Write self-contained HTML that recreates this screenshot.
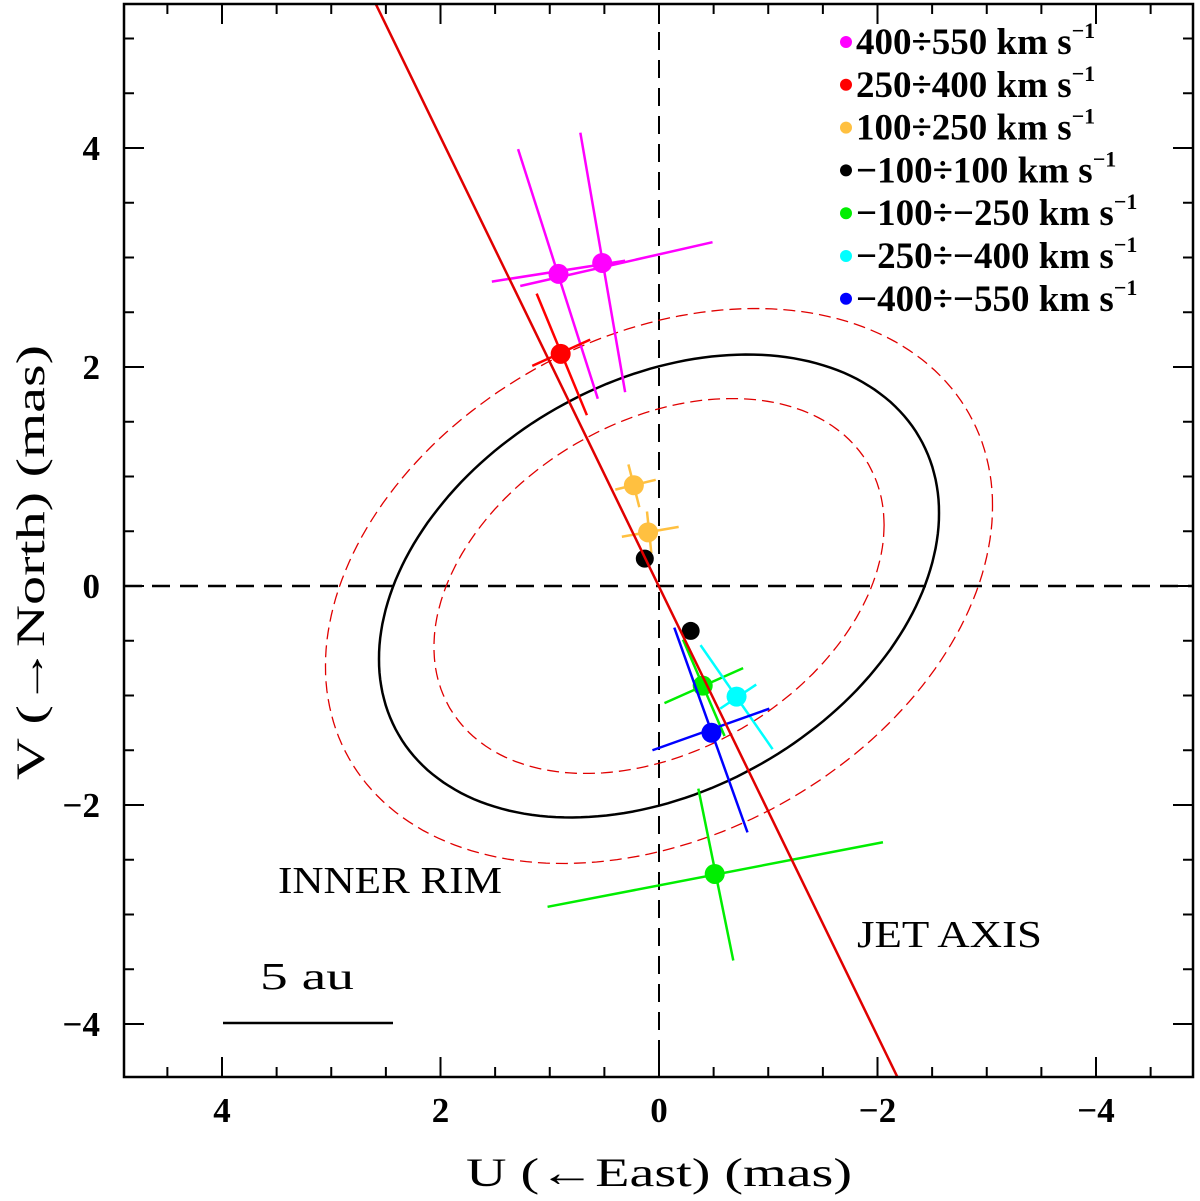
<!DOCTYPE html>
<html><head><meta charset="utf-8"><style>
html,body{margin:0;padding:0;background:#fff;}
svg text{font-family:"Liberation Sans",sans-serif;}
.serif{font-family:"Liberation Serif",serif !important;}
</style></head><body>
<svg id="chart" width="1200" height="1196" viewBox="0 0 1200 1196" xmlns="http://www.w3.org/2000/svg">
<defs><clipPath id="clip"><rect x="124" y="4" width="1069" height="1073"/></clipPath></defs>
<g id="plot" clip-path="url(#clip)"></g>
<g id="axes"></g>
</svg>
<script>
// Data (U, V in mas)
const xTicks = [4, 2, 0, -2, -4];
const yTicks = [4, 2, 0, -2, -4];
const xTickLabels = ["4", "2", "0", "\u22122", "\u22124"];
const yTickLabels = ["4", "2", "0", "\u22122", "\u22124"];
// ellipses: [x-extent, y-extent, V at the western (negative U) x-extreme]
const rimEllipse = [2.563, 2.114, 0.667];
const innerEllipse = [2.06, 1.712, 0.557];
const outerEllipse = [3.053, 2.534, 0.731];
// jet axis endpoints [U,V]
const jetAxis = [[2.59, 5.31], [-2.18, -4.48]];
// points
const pointColors = ["#ff00ff","#ff00ff","#ff0000","#ffc040","#ffc040","#000000","#000000","#00ee00","#00ffff","#0000ff","#00ee00"];
const pointU = [0.92, 0.52, 0.90, 0.23, 0.10, 0.13, -0.29, -0.40, -0.71, -0.48, -0.51];
const pointV = [2.85, 2.95, 2.12, 0.92, 0.49, 0.25, -0.41, -0.91, -1.01, -1.34, -2.63];
const barA = [[1.29,3.99,0.56,1.71],[0.72,4.14,0.31,1.77],[1.12,2.67,0.66,1.56],[0.28,1.11,0.18,0.72],[0.11,0.68,0.07,0.30],null,null,[-0.22,-0.49,-0.60,-1.37],[-0.38,-0.54,-1.04,-1.49],[-0.14,-0.38,-0.81,-2.25],[-0.36,-1.85,-0.68,-3.42]];
const barB = [[1.53,2.78,0.31,2.97],[1.27,2.74,-0.49,3.14],[1.16,2.01,0.63,2.25],[0.40,0.88,0.03,0.97],[0.34,0.45,-0.18,0.54],null,null,[-0.05,-1.07,-0.77,-0.75],[-0.56,-1.12,-0.89,-0.90],[0.06,-1.50,-1.01,-1.12],[1.02,-2.93,-2.05,-2.34]];
const legendLabels = ["400\u00f7550 km s","250\u00f7400 km s","100\u00f7250 km s","\u2212100\u00f7100 km s","\u2212100\u00f7\u2212250 km s","\u2212250\u00f7\u2212400 km s","\u2212400\u00f7\u2212550 km s"];
const legendColors = ["#ff00ff","#ff0000","#ffc040","#000000","#00ee00","#00ffff","#0000ff"];

const NS="http://www.w3.org/2000/svg";
const px = u => 659 - 109.25*u;
const py = v => 586 - 109.5*v;
const plot=document.getElementById('plot'), axes=document.getElementById('axes');
function mk(tag, parent, at){const e=document.createElementNS(NS,tag);for(const k in at)e.setAttribute(k,at[k]);parent.appendChild(e);return e;}

let e=mk('line',plot,{x1:124,y1:py(0),x2:1193,y2:py(0),stroke:'#000','stroke-width':2.5,'stroke-dasharray':'18,10'});


e=mk('line',plot,{x1:px(0),y1:4,x2:px(0),y2:1077,stroke:'#000','stroke-width':2,'stroke-dasharray':'18,10'});



function ellipse(p, attrs){
  let d='';
  const s=Math.sqrt(p[1]*p[1]-p[2]*p[2]);
  for(let i=0;i<=200;i++){const t=i/200*2*Math.PI;const u=-p[0]*Math.cos(t), v=p[2]*Math.cos(t)+s*Math.sin(t);d+=(i?'L':'M')+px(u).toFixed(1)+','+py(v).toFixed(1);}
  attrs.d=d+'Z';attrs.fill='none';
  return mk('path',plot,attrs);
}
e=ellipse(outerEllipse,{stroke:'#e00000','stroke-width':1.3,'stroke-dasharray':'12,6'});


e=ellipse(innerEllipse,{stroke:'#e00000','stroke-width':1.3,'stroke-dasharray':'12,6'});


e=ellipse(rimEllipse,{stroke:'#000','stroke-width':2.5});



for(let i=0;i<pointU.length;i++){
  const g=mk('g',plot,{});
  
  
  [barA[i],barB[i]].forEach(b=>{ if(!b) return;
    mk('line',g,{x1:px(b[0]),y1:py(b[1]),x2:px(b[2]),y2:py(b[3]),stroke:pointColors[i],'stroke-width':2.5});});
  mk('circle',g,{cx:px(pointU[i]),cy:py(pointV[i]),r:(pointColors[i]==='#000000'?9:10),fill:pointColors[i]});
}
e=mk('line',plot,{x1:px(jetAxis[0][0]),y1:py(jetAxis[0][1]),x2:px(jetAxis[1][0]),y2:py(jetAxis[1][1]),stroke:'#e00000','stroke-width':2.5});



e=mk('rect',axes,{x:124,y:4,width:1069,height:1073,fill:'none',stroke:'#000','stroke-width':2.5});


for(let k=-10;k<=10;k++){
  const u=k/2, maj=(k%4===0);
  const L=maj?20:10;
  const x=px(u); if(x>124&&x<1193){mk('line',axes,{x1:x,y1:1077,x2:x,y2:1077-L,stroke:'#000','stroke-width':2});mk('line',axes,{x1:x,y1:4,x2:x,y2:4+L,stroke:'#000','stroke-width':2});}
  const y=py(u); if(y>4&&y<1077){mk('line',axes,{x1:124,y1:y,x2:124+L,y2:y,stroke:'#000','stroke-width':2});mk('line',axes,{x1:1193,y1:y,x2:1193-L,y2:y,stroke:'#000','stroke-width':2});}
}
xTicks.forEach((t,i)=>{e=mk('text',axes,{x:px(t),y:1122,'font-size':35,'text-anchor':'middle',class:'serif','font-weight':'bold'});e.textContent=xTickLabels[i];

});
yTicks.forEach((t,i)=>{e=mk('text',axes,{x:100,y:py(t)+12,'font-size':35,'text-anchor':'end',class:'serif','font-weight':'bold'});e.textContent=yTickLabels[i];

});
e=mk('text',axes,{x:466,y:1186,'font-size':40,textLength:386,lengthAdjust:'spacingAndGlyphs',class:'serif'});e.textContent='U (\u2190East) (mas)';


e=mk('text',axes,{x:0,y:0,'font-size':40,textLength:435,lengthAdjust:'spacingAndGlyphs',class:'serif',transform:'translate(44,780) rotate(-90)'});e.textContent='V (\u2192North) (mas)';



e=mk('text',axes,{x:278,y:893,'font-size':38,textLength:224,lengthAdjust:'spacingAndGlyphs',class:'serif'});e.textContent='INNER RIM';


e=mk('text',axes,{x:857,y:947,'font-size':38,textLength:185,lengthAdjust:'spacingAndGlyphs',class:'serif'});e.textContent='JET AXIS';


e=mk('text',axes,{x:260,y:989,'font-size':38,textLength:94,lengthAdjust:'spacingAndGlyphs',class:'serif'});e.textContent='5 au';


e=mk('line',axes,{x1:223,y1:1023,x2:393,y2:1023,stroke:'#000','stroke-width':2.5});



legendLabels.forEach((l,i)=>{
  const y=42+i*42.8;
  const g=mk('g',axes,{});
  
  
  mk('circle',g,{cx:846,cy:y,r:6,fill:legendColors[i]});
  const t=mk('text',g,{x:856,y:y+12,'font-size':37,class:'serif','font-weight':'bold'});
  t.textContent=l;
  const s=mk('tspan',t,{'font-size':22,dy:-16});s.textContent='\u22121';
});
</script>
</body></html>
